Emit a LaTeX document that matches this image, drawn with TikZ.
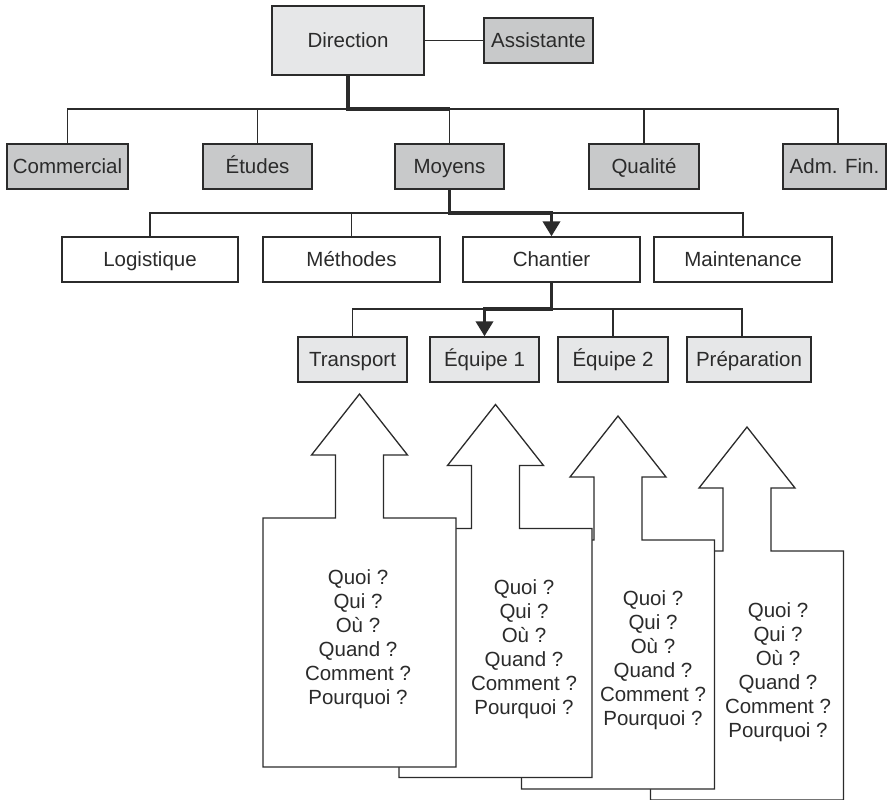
\documentclass[tikz,border=0pt]{standalone}
\usepackage{fontspec}
\setmainfont{Liberation Sans}
\usetikzlibrary{arrows.meta}
\definecolor{ink}{HTML}{2B2B2B}
\definecolor{paleg}{HTML}{E6E7E8}
\definecolor{midg}{HTML}{C8C9CA}
% one sheet: a rectangle topped by a block arrow pointing up
\newcommand\docsheet[2]{%
  \draw[sheet] (#1-96.5,#2) -- (#1-24,#2) -- (#1-24,#2-63) -- (#1-48,#2-63)
    -- (#1,#2-124) -- (#1+48,#2-63) -- (#1+24,#2-63) -- (#1+24,#2)
    -- (#1+96.5,#2) -- (#1+96.5,#2+249) -- (#1-96.5,#2+249) -- cycle;}
\begin{document}
\begin{tikzpicture}[x=1pt,y=-1pt,
  font=\fontsize{20.5}{24}\selectfont, text=ink,
  orgbox/.style={draw=ink, line width=1.3pt, inner sep=0pt, minimum height=45pt,
    text height=14.7pt, text depth=0pt},
  pale/.style={orgbox, fill=paleg},
  mid/.style={orgbox, fill=midg},
  plain/.style={orgbox, fill=white},
  link/.style={draw=ink, line width=1.3pt},
  main/.style={draw=ink, line width=3.6pt, line join=miter},
  tip/.style={-{Triangle[width=17pt,length=15pt]}},
  sheet/.style={draw=ink, line width=1.3pt, fill=white, line join=miter},
  qtext/.style={align=center, inner sep=0pt}
]
\useasboundingbox (0,0) rectangle (887,800);

% ---- stacked question sheets (back to front)
\docsheet{747}{551}
\docsheet{618}{540}
\docsheet{495.5}{528.5}
\docsheet{359.5}{518}
\node[qtext] (q4) at (778,672) {Quoi ?\\Qui ?\\Où ?\\Quand ?\\Comment ?\\Pourquoi ?};
\node[qtext] (q3) at (653,660) {Quoi ?\\Qui ?\\Où ?\\Quand ?\\Comment ?\\Pourquoi ?};
\node[qtext] (q2) at (524,649) {Quoi ?\\Qui ?\\Où ?\\Quand ?\\Comment ?\\Pourquoi ?};
\node[qtext] (q1) at (358,639) {Quoi ?\\Qui ?\\Où ?\\Quand ?\\Comment ?\\Pourquoi ?};

% ---- top
\node[pale, minimum width=152pt, minimum height=69pt] (dir) at (348,40.5) {Direction};
\node[mid, minimum width=109pt] (asst) at (538.5,40.5) {Assistante};

% ---- first level
\node[mid, minimum width=121pt] (comm) at (67.5,166.5) {Commercial};
\node[mid, minimum width=109pt] (etu) at (257.5,166.5) {Études};
\node[mid, minimum width=109pt] (moy) at (449.5,166.5) {Moyens};
\node[mid, minimum width=110pt] (qual) at (644,166.5) {Qualité};
\node[mid, minimum width=103pt] (adm) at (834.5,166.5) {Adm. Fin.};

% ---- second level
\node[plain, minimum width=176pt] (logi) at (150,259.5) {Logistique};
\node[plain, minimum width=177pt] (meth) at (351.5,259.5) {Méthodes};
\node[plain, minimum width=177pt] (chan) at (551.5,259.5) {Chantier};
\node[plain, minimum width=178pt] (maint) at (743,259.5) {Maintenance};

% ---- third level
\node[pale, minimum width=109pt] (trans) at (352.5,359.5) {Transport};
\node[pale, minimum width=109pt] (eq1) at (484.5,359.5) {Équipe 1};
\node[pale, minimum width=110pt] (eq2) at (613,359.5) {Équipe 2};
\node[pale, minimum width=124pt] (prep) at (749,359.5) {Préparation};

% ---- connectors
\draw[link] (dir.east) -- (asst.west);

\coordinate (bus1) at (348,109);
\draw[link] (comm.north) |- ([xshift=3.5pt]adm.north |- bus1) -- ([xshift=3.5pt]adm.north);
\draw[link] (etu.north) -- (etu.north |- bus1);
\draw[link] (moy.north) -- (moy.north |- bus1);
\draw[link] (qual.north) -- (qual.north |- bus1);
\draw[main] (dir.south) |- (moy.north |- bus1);

\coordinate (bus2) at (449.5,213);
\draw[link] (logi.north) |- (maint.north |- bus2) -- (maint.north);
\draw[link] (meth.north) -- (meth.north |- bus2);
\draw[main, tip] (moy.south) |- (chan.north |- bus2) -- (chan.north);

\coordinate (bus3) at (551.5,309);
\draw[link] (trans.north) |- ([xshift=-7pt]prep.north |- bus3) -- ([xshift=-7pt]prep.north);
\draw[link] (eq2.north) -- (eq2.north |- bus3);
\draw[main, tip] (chan.south) |- (eq1.north |- bus3) -- (eq1.north);
\end{tikzpicture}
\end{document}
